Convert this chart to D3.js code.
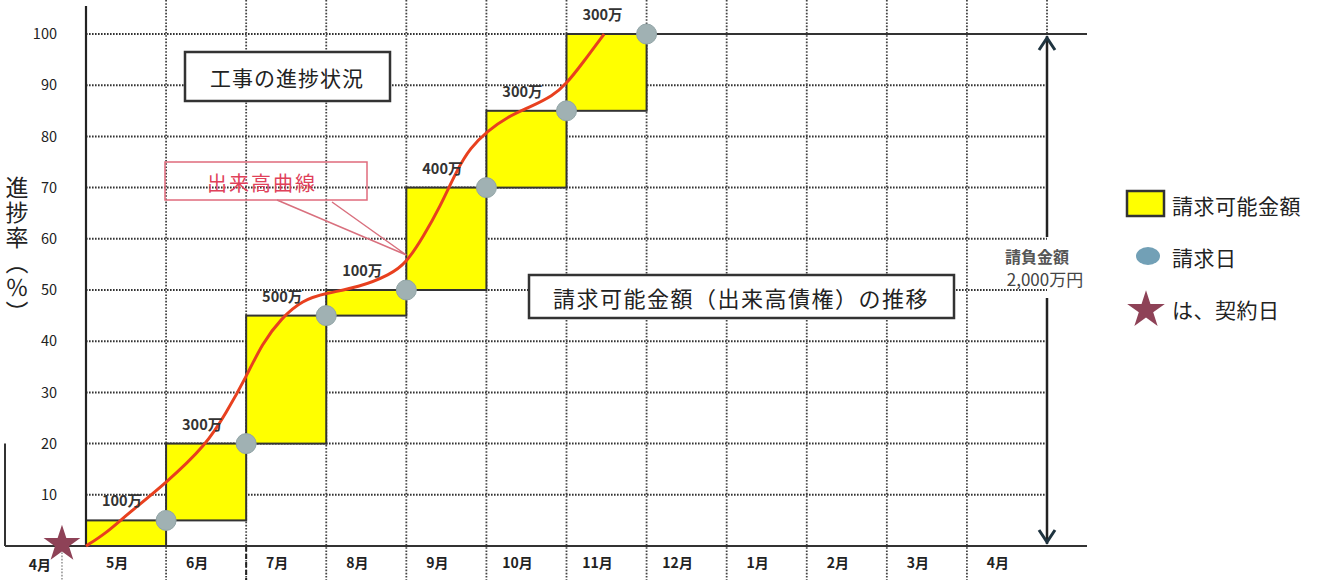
<!DOCTYPE html>
<html><head><meta charset="utf-8">
<script src="https://cdn.jsdelivr.net/npm/d3@7/dist/d3.min.js"></script>
<style>
html,body{margin:0;padding:0;background:#fff;}
svg{display:block;font-family:"Noto Sans CJK JP","Noto Sans",sans-serif;}
</style></head>
<body><svg id="c" width="1319" height="580"></svg>
<script>
// ---- data ----
const months = ["5月","6月","7月","8月","9月","10月","11月","12月","1月","2月","3月","4月"];
const contractMonthLabel = "4月";
const billAmounts = [100,300,500,100,400,300,300];   // 万円, per month from 5月
const totalAmount = 2000;                              // 万円
const yTicks = [10,20,30,40,50,60,70,80,90,100];
// 出来高曲線 (progress curve), x in months since start of 5月, y in %
const curveMonth = [0,0.25,0.5,1,1.5,1.75,2,2.2,2.44,2.7,3,3.4,3.8,4,4.21,4.42,4.63,4.8,5.01,5.26,5.54,5.83,6,6.2,6.47];
const curvePct   = [0,2.5,6,12.3,19.7,26,33,39.6,44.5,48,49.4,50.5,53,55.3,60.4,66.2,73.4,77.8,81,83.8,85.7,87.9,90.3,94.3,100];
const contractMonth = -0.3;

const svg = d3.select("#c");
const x = d3.scaleLinear().domain([0,12]).range([86,1047]);
const y = d3.scaleLinear().domain([0,100]).range([546,34]);
const band = d3.scaleBand().domain(months).range([86,1047]);

const cum = Array.from(d3.cumsum(billAmounts), v => v/totalAmount*100);
const blocks = billAmounts.map((a,i)=>({amt:a, i, lo: i===0?0:cum[i-1], hi:cum[i]}));

const gridCol = "#333";
// horizontal gridlines
svg.append("g").selectAll("line").data(yTicks.filter(t=>t<100)).join("line")
  .attr("x1",x(0)).attr("x2",x(12)).attr("y1",d=>y(d)).attr("y2",d=>y(d))
  .attr("stroke",gridCol).attr("stroke-width",2).attr("stroke-dasharray","1.6,1.4");
svg.append("line").attr("x1",x(0)).attr("x2",x(7)).attr("y1",y(100)).attr("y2",y(100))
  .attr("stroke",gridCol).attr("stroke-width",2).attr("stroke-dasharray","1.6,1.4");
// vertical gridlines
svg.append("g").selectAll("line").data(d3.range(1,13)).join("line")
  .attr("x1",d=>x(d)).attr("x2",d=>x(d)).attr("y1",0).attr("y2",d=>d===12?y(100):580)
  .attr("stroke","#444").attr("stroke-width",1.8).attr("stroke-dasharray","1.6,1.6");
svg.append("line").attr("x1",x(contractMonth)).attr("x2",x(contractMonth)).attr("y1",y(0)).attr("y2",580)
  .attr("stroke","#888").attr("stroke-width",1.4).attr("stroke-dasharray","1.6,1.6");
svg.append("line").attr("x1",x(2)).attr("x2",x(2)).attr("y1",y(0)).attr("y2",580)
  .attr("stroke","#222").attr("stroke-width",2).attr("stroke-dasharray","5,3");

// solid top line from last block to right
svg.append("line").attr("x1",x(7)).attr("x2",1087).attr("y1",y(100)).attr("y2",y(100))
  .attr("stroke","#333").attr("stroke-width",2);

// yellow blocks
svg.append("g").selectAll("rect").data(blocks).join("rect")
  .attr("x",d=>x(d.i)).attr("width",d=>x(d.i+1)-x(d.i))
  .attr("y",d=>y(d.hi)).attr("height",d=>y(d.lo)-y(d.hi))
  .attr("fill","#ffff00").attr("stroke","#333").attr("stroke-width",2);

// axes lines
svg.append("line").attr("x1",x(0)).attr("x2",x(0)).attr("y1",6).attr("y2",y(0))
  .attr("stroke","#222").attr("stroke-width",2.2);
svg.append("line").attr("x1",5).attr("x2",1087).attr("y1",y(0)).attr("y2",y(0))
  .attr("stroke","#333").attr("stroke-width",2.2);
svg.append("line").attr("x1",5).attr("x2",5).attr("y1",y(20)).attr("y2",y(0))
  .attr("stroke","#333").attr("stroke-width",2);

// y axis ticks
const ya = svg.append("g").attr("transform",`translate(${x(0)},0)`)
  .call(d3.axisLeft(y).tickValues(yTicks).tickSize(0).tickPadding(29));
ya.select(".domain").remove();
ya.selectAll("text").attr("font-size",14.5).attr("fill","#222").attr("font-family","'Noto Sans CJK JP',sans-serif");

// x axis labels
const xa = svg.append("g").attr("transform",`translate(0,${y(0)})`)
  .call(d3.axisBottom(band).tickSize(0).tickPadding(12));
xa.select(".domain").remove();
xa.selectAll("text").attr("font-size",14).attr("font-weight","bold").attr("fill","#222")
  .attr("dx",-9).attr("font-family","'Noto Sans CJK JP',sans-serif");
svg.append("text").attr("x",x(contractMonth)-22).attr("y",y(0)+24).attr("text-anchor","middle")
  .attr("font-size",14).attr("font-weight","bold").attr("fill","#222").text(contractMonthLabel);

// progress curve
const line = d3.line().x(d=>x(d[0])).y(d=>y(d[1])).curve(d3.curveBasis);
svg.append("path").datum(curveMonth.map((m,i)=>[m,curvePct[i]]))
  .attr("d",line).attr("fill","none").attr("stroke","#e8401f").attr("stroke-width",3);

// billing dots
svg.append("g").selectAll("circle").data(blocks).join("circle")
  .attr("cx",d=>x(d.i+1)).attr("cy",d=>y(d.hi)).attr("r",10)
  .attr("fill","#a0b1b3").attr("stroke","#91a4a6").attr("stroke-width",1);

// amount labels
svg.append("g").selectAll("text").data(blocks).join("text")
  .attr("x",d=>band(months[d.i])+band.bandwidth()/2-4).attr("y",d=>y(d.hi)-14)
  .attr("text-anchor","middle").attr("font-size",14.5).attr("font-weight","bold").attr("fill","#333")
  .text(d=>d.amt+"万");

// contract star
const star = d3.symbol(d3.symbolStar).size(420);
svg.append("path").attr("d",star()).attr("transform",`translate(${x(contractMonth)},${y(0)-2})`)
  .attr("fill","#8e4257");

// title box
svg.append("rect").attr("x",185).attr("y",52).attr("width",205).attr("height",49)
  .attr("fill","#fff").attr("stroke","#333").attr("stroke-width",2.5);
svg.append("text").attr("x",287).attr("y",77).attr("text-anchor","middle").attr("dominant-baseline","central")
  .attr("font-size",21).attr("fill","#222").attr("letter-spacing",1).text("工事の進捗状況");

// 出来高曲線 callout
svg.append("rect").attr("x",165).attr("y",162).attr("width",202).attr("height",38)
  .attr("fill","none").attr("stroke","#e06b7c").attr("stroke-width",1.5);
svg.append("path").attr("d",`M277,200 L${x(4)},255 L332,202`)
  .attr("fill","none").attr("stroke","#d9707e").attr("stroke-width",1.5);
svg.append("text").attr("x",262).attr("y",182).attr("text-anchor","middle").attr("dominant-baseline","central")
  .attr("font-size",20).attr("fill","#e0415a").attr("letter-spacing",2).text("出来高曲線");

// 推移 box
svg.append("rect").attr("x",529).attr("y",275).attr("width",425).attr("height",43)
  .attr("fill","#fff").attr("stroke","#333").attr("stroke-width",2.5);
svg.append("text").attr("x",741).attr("y",297).attr("text-anchor","middle").attr("dominant-baseline","central")
  .attr("font-size",22).attr("fill","#222").attr("letter-spacing",1.5).text("請求可能金額（出来高債権）の推移");

// contract amount arrow
const ax = x(12);
svg.append("line").attr("x1",ax).attr("x2",ax).attr("y1",y(100)+2).attr("y2",237).attr("stroke","#222").attr("stroke-width",2.5);
svg.append("line").attr("x1",ax).attr("x2",ax).attr("y1",298).attr("y2",y(0)-2).attr("stroke","#222").attr("stroke-width",2.5);
svg.append("path").attr("d",`M${ax-8},${y(100)+16} L${ax},${y(100)+4} L${ax+8},${y(100)+16}`)
  .attr("fill","none").attr("stroke","#1f3440").attr("stroke-width",3);
svg.append("path").attr("d",`M${ax-8},${y(0)-16} L${ax},${y(0)-4} L${ax+8},${y(0)-16}`)
  .attr("fill","none").attr("stroke","#1f3440").attr("stroke-width",3);
svg.append("text").attr("x",1037).attr("y",256).attr("text-anchor","middle").attr("dominant-baseline","central")
  .attr("font-size",16).attr("font-weight","bold").attr("fill","#555").text("請負金額");
svg.append("text").attr("x",1045).attr("y",278).attr("text-anchor","middle").attr("dominant-baseline","central")
  .attr("font-size",17).attr("fill","#444").text("2,000万円");

// y-axis title (vertical)
svg.append("text").attr("x",17).attr("y",176).attr("font-size",23).attr("fill","#222")
  .style("writing-mode","vertical-rl").attr("letter-spacing",2).text("進捗率（％）");

// legend
svg.append("rect").attr("x",1127).attr("y",191).attr("width",37).attr("height",25)
  .attr("fill","#ffff00").attr("stroke","#333").attr("stroke-width",2.5);
svg.append("ellipse").attr("cx",1148).attr("cy",256).attr("rx",12).attr("ry",9).attr("fill","#72a0b6");
svg.append("path").attr("d",d3.symbol(d3.symbolStar).size(440)()).attr("transform","translate(1146,310)").attr("fill","#8e4257");
const legT = [["請求可能金額",205],["請求日",257],["は、契約日",309]];
svg.append("g").selectAll("text").data(legT).join("text")
  .attr("x",1172).attr("y",d=>d[1]).attr("dominant-baseline","central")
  .attr("font-size",21).attr("fill","#222").attr("letter-spacing",0.5).text(d=>d[0]);
</script></body></html>
